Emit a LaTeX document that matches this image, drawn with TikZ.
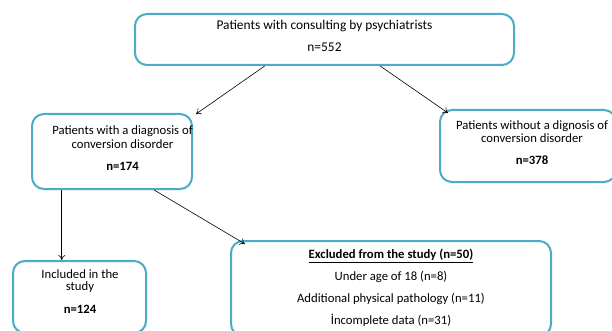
\documentclass[tikz,border=0pt]{standalone}
\usepackage{fontspec}
\setmainfont{Carlito}
\usetikzlibrary{calc,arrows.meta}
\definecolor{boxblue}{RGB}{75,172,198}
\tikzset{
  box/.style={draw=boxblue, line width=2pt, rounded corners=12pt, fill=white, inner sep=0pt},
  txt/.style={font=\fontsize{12.7}{14}\selectfont, inner sep=0pt, anchor=center},
  bigtxt/.style={txt, font=\fontsize{13.4}{15}\selectfont},
  conn/.style={draw=black, line width=0.6pt, -{To[length=5pt,width=7pt]}},
}
\begin{document}
\begin{tikzpicture}[x=1pt,y=-1pt]
\useasboundingbox[fill=white] (0,0) rectangle (612,331);
% boxes
\node[box, minimum width=379, minimum height=51] (top) at (324.5,39.5) {};
\node[box, minimum width=160, minimum height=75] (diag) at (112,151.5) {};
\node[box, minimum width=176, minimum height=72] (nodiag) at (528,146) {};
\node[box, minimum width=133, minimum height=72] (incl) at (79.5,297) {};
\node[box, minimum width=320, minimum height=95] (excl) at (391,288.5) {};
% texts
\node[bigtxt] (t1) at (324.5,26) {Patients with consulting by psychiatrists};
\node[bigtxt] (t2) at (324.5,47) {n=552};
\node[txt] (d1) at (122.5,131) {Patients with a diagnosis of};
\node[txt] (d2) at (122.5,144) {conversion disorder};
\node[txt] (d3) at (122.5,166) {\bfseries n=174};
\node[txt] (n1) at (532,126) {Patients without a dignosis of};
\node[txt] (n2) at (532,138) {conversion disorder};
\node[txt] (n3) at (532,160) {\bfseries n=378};
\node[txt] (i1) at (80,274) {Included in the};
\node[txt] (i2) at (80,287) {study};
\node[txt] (i3) at (80,309) {\bfseries n=124};
\node[txt] (e1) at (391,256) {\bfseries\underline{Excluded from the study (n=50)}};
\node[txt] (e2) at (391,277) {Under age of 18 (n=8)};
\node[txt] (e3) at (391,299) {Additional physical pathology (n=11)};
\node[txt] (e4) at (391,320) {İncomplete data (n=31)};
% connectors
\coordinate (a1) at ($(top.south west)!0.343!(top.south east)$);
\coordinate (a2) at ($(top.south west)!0.646!(top.south east)$);
\draw[conn] (a1) -- (196,114);
\draw[conn] (a2) -- (448,113);
\coordinate (b1) at ($(diag.south west)!0.19!(diag.south east)$);
\coordinate (b2) at ($(diag.south west)!0.76!(diag.south east)$);
\draw[conn] (b1) -- (b1 |- incl.north);
\draw[conn] (b2) -- (245,244);
\end{tikzpicture}
\end{document}
